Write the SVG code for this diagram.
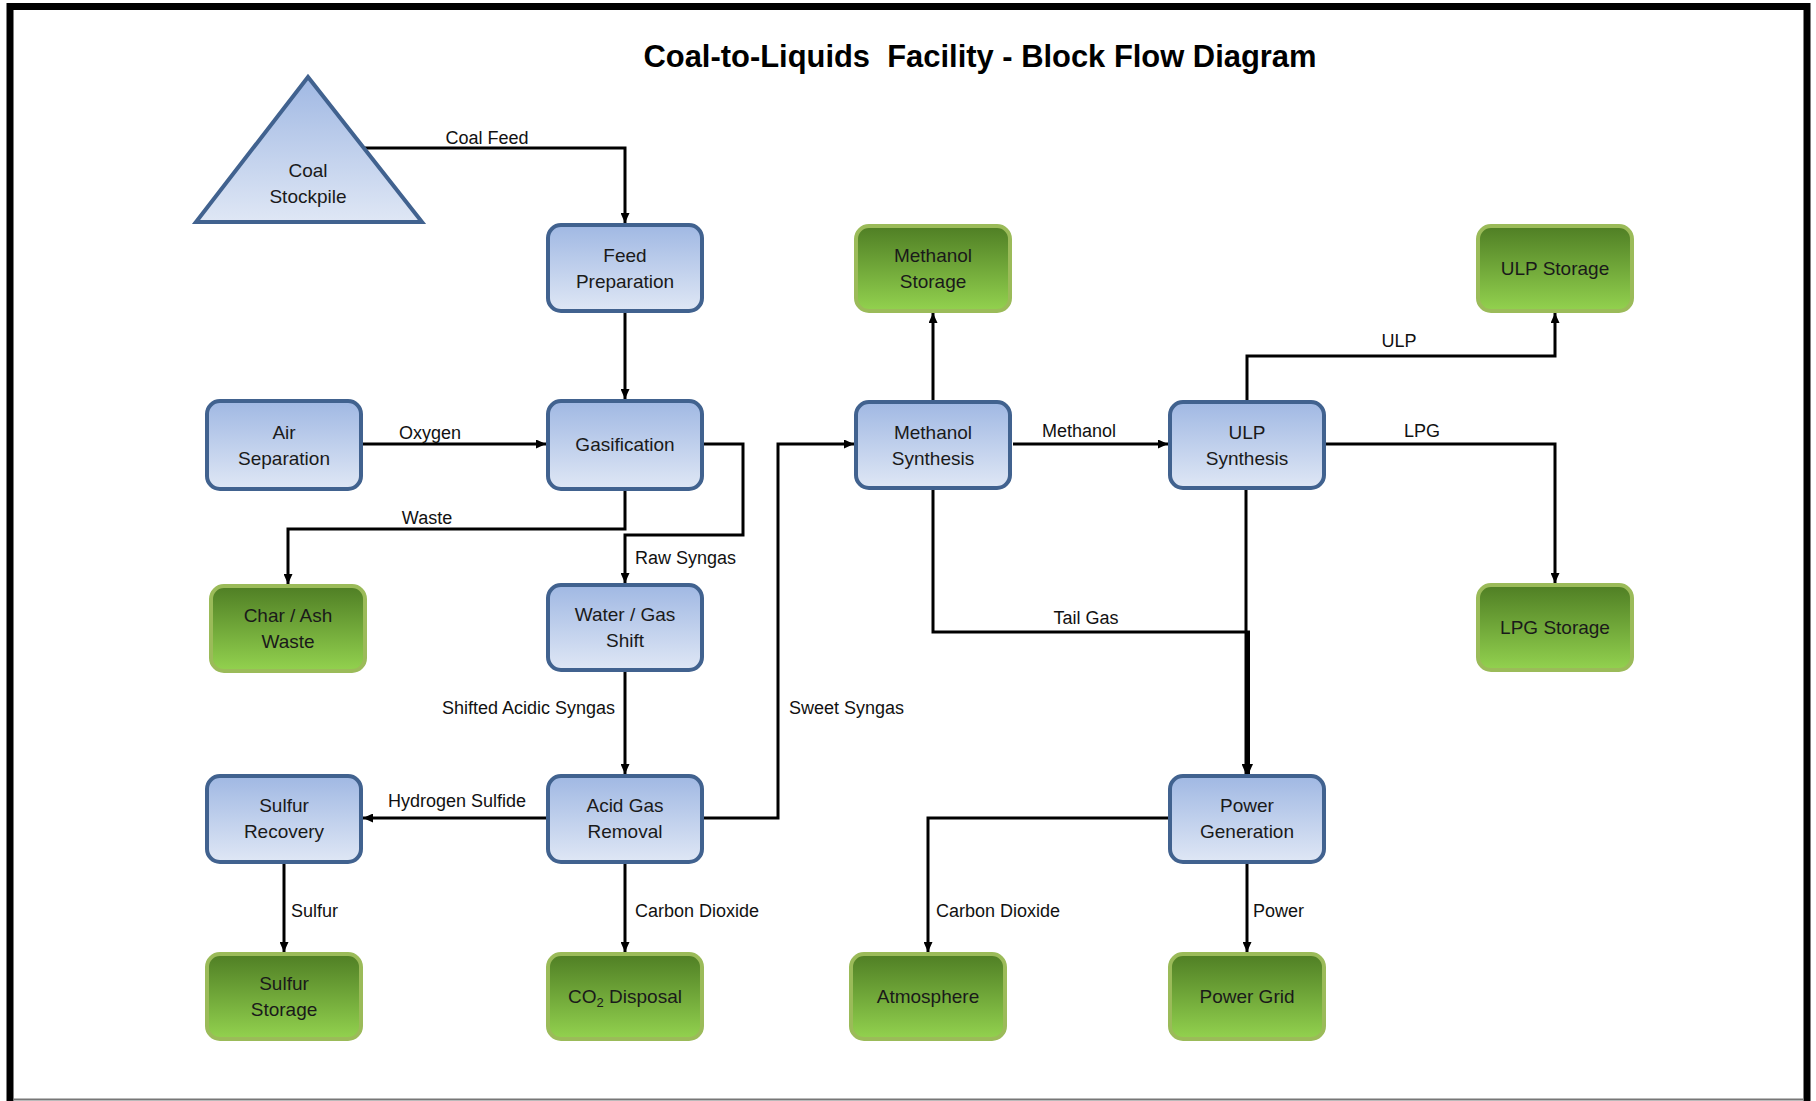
<svg xmlns="http://www.w3.org/2000/svg" width="1816" height="1101" viewBox="0 0 1816 1101">
<style>
  .blue { fill: url(#gBlue); stroke: #41628f; stroke-width: 4; }
  .green { fill: url(#gGreen); stroke: #9bbb59; stroke-width: 4; }
  .nt { font-family: "Liberation Sans", Arial, sans-serif; font-size: 19px; fill: #1a1a1a; text-anchor: middle; }
  .lbl { font-family: "Liberation Sans", Arial, sans-serif; font-size: 18px; fill: #111; }
  .c { text-anchor: middle; }
  .ln { fill: none; stroke: #000; stroke-width: 3; }
  .arr { marker-end: url(#ah); }
</style>
<defs>
  <linearGradient id="gBlue" x1="0" y1="0" x2="0" y2="1">
    <stop offset="0" stop-color="#a0b8e3"/>
    <stop offset="1" stop-color="#dfe7f5"/>
  </linearGradient>
  <linearGradient id="gGreen" x1="0" y1="0" x2="0" y2="1">
    <stop offset="0" stop-color="#4f7e24"/>
    <stop offset="1" stop-color="#93d24f"/>
  </linearGradient>
  <marker id="ah" markerUnits="userSpaceOnUse" markerWidth="11" markerHeight="9" refX="10" refY="4.5" orient="auto">
    <path d="M0,0 L10,4.5 L0,9 z" fill="#000"/>
  </marker>
</defs>
<rect x="0" y="0" width="1816" height="1101" fill="#fff"/>
<rect x="10" y="6.5" width="1797" height="1110" fill="none" stroke="#000" stroke-width="7"/>
<line x1="13" y1="1099.5" x2="1803" y2="1099.5" stroke="#777" stroke-width="2"/>

<text x="980" y="67" font-family="Liberation Sans, Arial, sans-serif" font-size="31" font-weight="bold" text-anchor="middle" textLength="673" lengthAdjust="spacingAndGlyphs" fill="#000" xml:space="preserve">Coal-to-Liquids  Facility - Block Flow Diagram</text>

<g id="connectors">
  <path class="ln arr" d="M364,148 H625 V223"/>
  <path class="ln arr" d="M625,312 V399"/>
  <path class="ln arr" d="M363,444 H546"/>
  <path class="ln arr" d="M704,444 H743 V535 H625 V583"/>
  <path class="ln arr" d="M625,490 V529 H288 V584"/>
  <path class="ln arr" d="M625,672 V774"/>
  <path class="ln arr" d="M546,818 H363"/>
  <path class="ln arr" d="M284,864 V952"/>
  <path class="ln arr" d="M625,864 V952"/>
  <path class="ln arr" d="M704,818 H778 V444 H854"/>
  <path class="ln arr" d="M933,401 V313"/>
  <path class="ln arr" d="M1013,444 H1168"/>
  <path class="ln arr" d="M1247,401 V356 H1555 V313"/>
  <path class="ln arr" d="M1326,444 H1555 V583"/>
  <path class="ln arr" d="M933,490 V632 H1248.5 V774"/>
  <path class="ln arr" d="M1246,490 V774"/>
  <path class="ln arr" d="M1168,818 H928 V952"/>
  <path class="ln arr" d="M1247,864 V952"/>

  <text class="lbl c" x="487" y="144">Coal Feed</text>
  <text class="lbl c" x="430" y="439">Oxygen</text>
  <text class="lbl c" x="427" y="524">Waste</text>
  <text class="lbl" x="635" y="564">Raw Syngas</text>
  <text class="lbl" x="615" y="714" text-anchor="end">Shifted Acidic Syngas</text>
  <text class="lbl" x="789" y="714">Sweet Syngas</text>
  <text class="lbl c" x="457" y="807">Hydrogen Sulfide</text>
  <text class="lbl" x="291" y="917">Sulfur</text>
  <text class="lbl" x="635" y="917">Carbon Dioxide</text>
  <text class="lbl c" x="1079" y="437">Methanol</text>
  <text class="lbl c" x="1399" y="347">ULP</text>
  <text class="lbl c" x="1422" y="437">LPG</text>
  <text class="lbl c" x="1086" y="624">Tail Gas</text>
  <text class="lbl" x="936" y="917">Carbon Dioxide</text>
  <text class="lbl" x="1253" y="917">Power</text>
</g>

<g id="coal-stockpile">
  <polygon points="308,77 422,222 196,222" fill="url(#gBlue)" stroke="#41628f" stroke-width="4"/>
  <text class="nt" x="308" y="177">Coal</text>
  <text class="nt" x="308" y="203">Stockpile</text>
</g>
<g id="feed-preparation">
  <rect class="blue" x="548" y="225" width="154" height="86" rx="13"/>
  <text class="nt" x="625" y="262">Feed</text>
  <text class="nt" x="625" y="288">Preparation</text>
</g>
<g id="air-separation">
  <rect class="blue" x="207" y="401" width="154" height="88" rx="13"/>
  <text class="nt" x="284" y="439">Air</text>
  <text class="nt" x="284" y="465">Separation</text>
</g>
<g id="gasification">
  <rect class="blue" x="548" y="401" width="154" height="88" rx="13"/>
  <text class="nt" x="625" y="451">Gasification</text>
</g>
<g id="char-ash-waste">
  <rect class="green" x="211" y="586" width="154" height="85" rx="13"/>
  <text class="nt" x="288" y="622">Char / Ash</text>
  <text class="nt" x="288" y="648">Waste</text>
</g>
<g id="water-gas-shift">
  <rect class="blue" x="548" y="585" width="154" height="85" rx="13"/>
  <text class="nt" x="625" y="621">Water / Gas</text>
  <text class="nt" x="625" y="647">Shift</text>
</g>
<g id="sulfur-recovery">
  <rect class="blue" x="207" y="776" width="154" height="86" rx="13"/>
  <text class="nt" x="284" y="812">Sulfur</text>
  <text class="nt" x="284" y="838">Recovery</text>
</g>
<g id="acid-gas-removal">
  <rect class="blue" x="548" y="776" width="154" height="86" rx="13"/>
  <text class="nt" x="625" y="812">Acid Gas</text>
  <text class="nt" x="625" y="838">Removal</text>
</g>
<g id="sulfur-storage">
  <rect class="green" x="207" y="954" width="154" height="85" rx="13"/>
  <text class="nt" x="284" y="990">Sulfur</text>
  <text class="nt" x="284" y="1016">Storage</text>
</g>
<g id="co2-disposal">
  <rect class="green" x="548" y="954" width="154" height="85" rx="13"/>
  <text class="nt" x="625" y="1003">CO<tspan font-size="13" dy="4">2</tspan><tspan dy="-4"> Disposal</tspan></text>
</g>
<g id="methanol-storage">
  <rect class="green" x="856" y="226" width="154" height="85" rx="13"/>
  <text class="nt" x="933" y="262">Methanol</text>
  <text class="nt" x="933" y="288">Storage</text>
</g>
<g id="methanol-synthesis">
  <rect class="blue" x="856" y="402" width="154" height="86" rx="13"/>
  <text class="nt" x="933" y="439">Methanol</text>
  <text class="nt" x="933" y="465">Synthesis</text>
</g>
<g id="ulp-storage">
  <rect class="green" x="1478" y="226" width="154" height="85" rx="13"/>
  <text class="nt" x="1555" y="275">ULP Storage</text>
</g>
<g id="ulp-synthesis">
  <rect class="blue" x="1170" y="402" width="154" height="86" rx="13"/>
  <text class="nt" x="1247" y="439">ULP</text>
  <text class="nt" x="1247" y="465">Synthesis</text>
</g>
<g id="lpg-storage">
  <rect class="green" x="1478" y="585" width="154" height="85" rx="13"/>
  <text class="nt" x="1555" y="634">LPG Storage</text>
</g>
<g id="power-generation">
  <rect class="blue" x="1170" y="776" width="154" height="86" rx="13"/>
  <text class="nt" x="1247" y="812">Power</text>
  <text class="nt" x="1247" y="838">Generation</text>
</g>
<g id="atmosphere">
  <rect class="green" x="851" y="954" width="154" height="85" rx="13"/>
  <text class="nt" x="928" y="1003">Atmosphere</text>
</g>
<g id="power-grid">
  <rect class="green" x="1170" y="954" width="154" height="85" rx="13"/>
  <text class="nt" x="1247" y="1003">Power Grid</text>
</g>
</svg>
